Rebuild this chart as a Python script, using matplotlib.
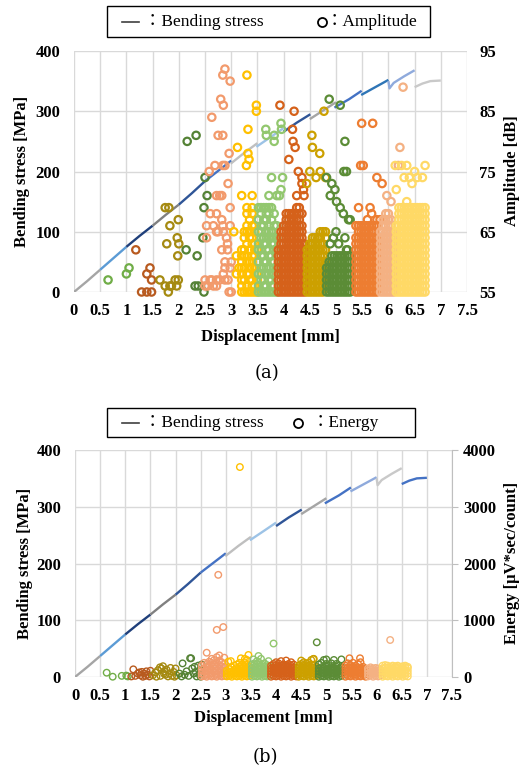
import numpy as np
import matplotlib
matplotlib.use("Agg")
import matplotlib.pyplot as plt
from matplotlib.patches import Rectangle
from matplotlib.lines import Line2D

plt.rcParams['font.family'] = ['Liberation Serif', 'Noto Sans CJK JP', 'DejaVu Sans']

# ---------------- bending stress curve (one piece per 0.5 mm) ----------------
seg_x = [[0, 0.25, 0.5], [0.5, 0.75, 1.0], [1.0, 1.25, 1.5], [1.5, 1.75, 2.0],
         [2.0, 2.25, 2.5], [2.5, 2.75, 3.0], [2.99, 3.25, 3.5], [3.48, 3.75, 4.0],
         [4.0, 4.25, 4.51], [4.5, 4.75, 5.0], [4.97, 5.25, 5.49], [5.48, 5.75, 6.0],
         [6.0, 6.02, 6.1, 6.3, 6.5], [6.5, 6.65, 6.8, 7.0]]
seg_y = [[0, 18, 37], [37, 56, 75], [75, 93, 110], [110, 128, 145],
         [145, 164, 184], [184, 201, 218], [213, 231, 247], [241, 257, 272],
         [266, 281, 295], [287, 301, 315], [306, 320, 334], [327, 340, 352],
         [350, 338, 347, 358, 368], [340, 346, 350, 351]]
seg_col_a = ['#A5A5A5', '#5B9BD5', '#1F3F7A', '#808080', '#2F5597', '#4472C4', '#BFBFBF',
             '#9DC3E6', '#2F5597', '#A5A5A5', '#4472C4', '#2E75B6', '#8FAADC', '#C9C9C9']
seg_col_b = ['#A5A5A5', '#5B9BD5', '#1F3F7A', '#808080', '#2F5597', '#4472C4', '#BFBFBF',
             '#9DC3E6', '#2F5597', '#A5A5A5', '#4472C4', '#8FAADC', '#C9C9C9', '#4472C4']

# colours of the AE hit groups
grp_col = ['#70AD47', '#B85A1F', '#A58A11', '#548235', '#F29A6C', '#FFC000', '#92C76E',
           '#D5611A', '#CCA000', '#5B8C36', '#ED7D31', '#F4B183', '#FFD966']

# ---------------- amplitude [dB], (displacement, [dB values]) ----------------
amp_g1 = [(0.65, [57]), (1.0, [58]), (1.05, [59])]
amp_g2 = [(1.18, [62]), (1.29, [55]), (1.39, [55, 58]), (1.45, [59]), (1.48, [55, 57])]
amp_g3 = [(1.64, [57]), (1.74, [56, 69]), (1.77, [63]), (1.8, [55]), (1.81, [69]),
          (1.83, [56, 66]), (1.86, [56]), (1.93, [57]), (1.96, [56]), (1.97, [64]),
          (1.98, [61]), (1.99, [57, 67]), (2.0, [63])]
amp_g4 = [(2.14, [62]), (2.16, [80]), (2.31, [56]), (2.33, [81]), (2.35, [61]), (2.37, [56]),
          (2.46, [64]), (2.48, [55, 69]), (2.5, [74]), (2.54, [71])]
amp_g5 = [(2.5, [56, 57]), (2.53, [64, 66]), (2.55, [56]), (2.58, [75]), (2.6, [57, 68]),
          (2.63, [57, 84]), (2.66, [56, 66]), (2.69, [76]), (2.72, [56, 57, 65, 68, 71]),
          (2.75, [65, 81]), (2.78, [57, 71]), (2.8, [87]), (2.82, [62, 67, 71]),
          (2.84, [66, 76, 81, 91]), (2.85, [58, 65, 86]), (2.88, [57, 59, 60, 76, 92]),
          (2.91, [64]), (2.93, [62, 63]), (2.94, [57, 73]), (2.96, [55, 78]),
          (2.98, [59, 66, 69, 90]), (3.0, [55, 60])]
amp_g6 = [(3.05, [65]), (3.1, [58, 61]), (3.12, [79]), (3.15, [59]),
          (3.2, [55, 56, 57, 58, 59, 60, 61, 62, 71]), (3.25, [55, 57, 59, 61, 62, 64, 65]),
          (3.29, [76]), (3.3, [55, 56, 58, 60, 61, 63, 65, 66, 68, 69, 91]), (3.32, [78, 82]),
          (3.34, [77]), (3.35, [55, 57, 58, 59, 60, 62, 64, 65, 67]),
          (3.4, [55, 56, 57, 59, 60, 61, 63, 64, 66, 68, 69, 71]),
          (3.45, [55, 56, 58, 59, 61, 62, 63, 65, 66]), (3.48, [85, 86]),
          (3.5, [55, 57, 58, 60, 62])]
amp_g7 = [(3.52, [55, 56, 58, 60, 62, 63, 65, 67, 69]),
          (3.57, [55, 57, 58, 59, 61, 62, 64, 65, 66, 68, 69]),
          (3.62, [55, 56, 57, 59, 60, 61, 63, 64, 66, 67, 69]), (3.66, [82]),
          (3.67, [55, 56, 58, 59, 60, 62, 63, 64, 65, 67, 68, 69, 81]),
          (3.72, [55, 57, 58, 59, 61, 62, 64, 65, 66, 68, 69, 71]),
          (3.77, [55, 56, 57, 58, 60, 61, 63, 64, 65, 67, 69, 74]),
          (3.82, [55, 56, 58, 59, 60, 62, 63, 64, 66, 68, 80, 81]),
          (3.87, [55, 57, 59, 61, 62, 64, 66, 71]), (3.92, [71]), (3.95, [72, 83]),
          (3.96, [82]), (3.98, [74])]
amp_g8 = [(3.9, [55, 56, 57, 58, 59, 60, 61, 62]), (3.93, [86]),
          (3.95, [55, 56, 57, 58, 59, 60, 61, 62, 63, 64, 65]),
          (4.0, [55, 56, 57, 58, 59, 60, 61, 62, 63, 64, 65, 66]),
          (4.05, [55, 56, 57, 58, 59, 60, 61, 62, 63, 64, 65, 66, 67, 68]),
          (4.1, [55, 56, 57, 58, 59, 60, 61, 62, 63, 64, 65, 66, 67, 68, 77]),
          (4.15, [55, 56, 57, 58, 59, 60, 61, 62, 63, 64, 65, 66, 67, 68]),
          (4.17, [82]), (4.18, [80]),
          (4.2, [55, 56, 57, 58, 59, 60, 61, 62, 63, 64, 65, 66, 67, 68, 85]), (4.22, [79]),
          (4.25, [55, 56, 57, 58, 59, 60, 61, 62, 63, 64, 65, 66, 67, 68, 69, 71]),
          (4.28, [75]),
          (4.3, [55, 56, 57, 58, 59, 60, 61, 62, 63, 64, 65, 66, 67, 68, 69]),
          (4.35, [55, 56, 57, 58, 59, 60, 61, 62, 63, 64, 65, 66, 68, 73, 74]),
          (4.38, [72]), (4.39, [71]), (4.4, [55, 56, 57, 58, 59, 60, 61, 62, 63])]
amp_g9 = [(4.44, [73]), (4.45, [55, 56, 57, 58, 59, 60, 61, 62]),
          (4.5, [55, 56, 57, 58, 59, 60, 61, 62, 63, 75]), (4.54, [81]),
          (4.55, [55, 56, 57, 58, 59, 60, 61, 62, 63, 64, 79]),
          (4.6, [55, 56, 57, 58, 59, 60, 61, 62, 63, 64]), (4.62, [74]),
          (4.65, [55, 56, 57, 58, 59, 60, 61, 62, 63, 64]), (4.69, [78]),
          (4.7, [55, 56, 57, 58, 59, 60, 61, 62, 63, 64, 65, 75]),
          (4.75, [55, 56, 57, 58, 59, 60, 61, 62, 63, 65]), (4.77, [85]),
          (4.8, [57, 58, 60, 62, 64, 65, 74])]
amp_g10 = [(4.82, [55, 56, 57, 58, 59, 74]), (4.87, [55, 56, 57, 58, 59, 60, 87]),
           (4.89, [63, 71]), (4.92, [55, 56, 57, 58, 59, 60, 61, 73]), (4.95, [64]),
           (4.97, [55, 56, 57, 58, 59, 60, 61]), (4.98, [72]), (5.0, [65]), (5.01, [70]),
           (5.02, [55, 56, 57, 58, 59, 60, 61]), (5.05, [63]),
           (5.07, [55, 56, 57, 58, 59, 60, 61]), (5.08, [69, 86]),
           (5.12, [55, 56, 57, 58, 59, 60, 61]), (5.14, [68]), (5.15, [75]),
           (5.17, [55, 56, 57, 58, 59, 60, 61, 64, 80]), (5.2, [62, 75]),
           (5.22, [55, 56, 57, 58, 59, 60, 61, 62]), (5.24, [67]),
           (5.27, [55, 56, 57, 58, 59, 60, 61, 67])]
amp_g11 = [(5.38, [55, 56, 57, 58, 59, 60, 61, 62, 63, 64, 66]),
           (5.43, [55, 56, 57, 58, 59, 60, 61, 62, 63, 64, 65, 66, 69]), (5.47, [76]),
           (5.48, [55, 56, 57, 58, 59, 60, 61, 62, 63, 64, 65, 66]), (5.49, [83]),
           (5.52, [76]), (5.53, [55, 56, 57, 58, 59, 60, 61, 62, 63, 64, 65, 66]),
           (5.58, [55, 56, 57, 58, 59, 60, 61, 62, 63, 64, 65, 66]), (5.6, [67]),
           (5.63, [55, 56, 57, 58, 59, 60, 61, 62, 63, 64, 65, 66]), (5.65, [69]),
           (5.68, [55, 56, 57, 58, 59, 60, 61, 62, 63, 64, 65, 66, 68]), (5.7, [83]),
           (5.73, [55, 56, 57, 58, 59, 60, 61, 62, 63, 64, 65, 66]),
           (5.78, [55, 56, 57, 58, 59, 60, 61, 62, 63, 64, 66, 67, 74]), (5.84, [67]),
           (5.88, [73])]
amp_g12 = [(5.85, [55, 56, 57, 58, 59, 60, 61, 62, 63, 64, 65]),
           (5.9, [55, 56, 57, 58, 59, 60, 61, 62, 63, 64, 65, 66, 67]),
           (5.95, [55, 56, 57, 58, 59, 60, 61, 62, 63, 64, 65, 66, 67, 68]), (5.97, [71]),
           (6.0, [55, 56, 57, 58, 59, 60, 61, 62, 63, 64, 65, 66, 67, 68]),
           (6.05, [55, 56, 57, 58, 59, 60, 61, 62, 63, 64, 65, 66, 67, 70]),
           (6.1, [55, 56, 57, 58, 59, 60, 61, 62, 63, 64, 65]),
           (6.19, [76]), (6.22, [79]), (6.28, [89])]
amp_g13 = [(6.13, [76]), (6.15, [55, 56, 57, 58, 59, 60, 61, 62, 63, 64, 65, 66, 72]),
           (6.2, [55, 56, 57, 58, 59, 60, 61, 62, 63, 64, 65, 66, 67, 68, 69]),
           (6.25, [55, 56, 57, 58, 59, 60, 61, 62, 63, 64, 65, 66, 67, 68, 69, 76]),
           (6.3, [55, 56, 57, 58, 59, 60, 61, 62, 63, 64, 65, 66, 67, 68, 69, 74]),
           (6.35, [55, 56, 57, 58, 59, 60, 61, 62, 63, 64, 65, 66, 67, 68, 69, 70, 76]),
           (6.4, [55, 56, 57, 58, 59, 60, 61, 62, 63, 64, 65, 66, 67, 68, 69, 74]),
           (6.45, [55, 56, 57, 58, 59, 60, 61, 62, 63, 64, 65, 66, 67, 68, 69, 73]),
           (6.5, [55, 56, 57, 58, 59, 60, 61, 62, 63, 64, 65, 66, 67, 68, 69, 75]),
           (6.55, [55, 56, 57, 58, 59, 60, 61, 62, 63, 64, 65, 66, 67, 68, 69, 74]),
           (6.6, [55, 56, 57, 58, 59, 60, 61, 62, 63, 64, 65, 66, 67, 68, 69]),
           (6.65, [55, 56, 57, 58, 59, 60, 61, 62, 63, 64, 65, 66, 67, 68, 69, 74]),
           (6.7, [55, 56, 57, 58, 59, 60, 61, 62, 63, 64, 65, 66, 67, 68, 69, 76])]
amp_groups = [amp_g1, amp_g2, amp_g3, amp_g4, amp_g5, amp_g6, amp_g7,
              amp_g8, amp_g9, amp_g10, amp_g11, amp_g12, amp_g13]

# ---------------- energy [uV*sec/count], (displacement, [energy values]) ----------------
en_g1 = [(0.63, [76]), (0.75, [5]), (0.93, [20]), (1.02, [25]), (1.05, [10])]
en_g2 = [(1.12, [10]), (1.16, [135]), (1.2, [20]), (1.25, [60]), (1.28, [80]), (1.3, [30]),
         (1.33, [90]), (1.35, [5]), (1.38, [60]), (1.4, [20]), (1.42, [100]), (1.45, [40]),
         (1.48, [10]), (1.5, [110])]
en_g3 = [(1.55, [30]), (1.6, [80]), (1.62, [5]), (1.65, [120]), (1.69, [170]), (1.7, [20]),
         (1.72, [150]), (1.75, [190]), (1.77, [60]), (1.78, [100]), (1.8, [40]), (1.82, [130]),
         (1.85, [10]), (1.88, [60]), (1.9, [160]), (1.93, [20]), (1.96, [90]), (1.98, [5]),
         (2.0, [150]), (2.02, [30])]
en_g4 = [(2.08, [60]), (2.12, [10]), (2.14, [240]), (2.18, [40]), (2.22, [100]), (2.26, [20]),
         (2.29, [330]), (2.31, [330]), (2.33, [150]), (2.36, [60]), (2.38, [180]), (2.4, [90]),
         (2.42, [10]), (2.45, [200]), (2.48, [40]), (2.5, [5, 120]), (2.52, [220])]
en_g5 = [(2.52, [10, 60, 130, 200]), (2.57, [20, 90, 150, 250]),
         (2.62, [5, 50, 110, 170, 230, 428]), (2.67, [30, 80, 140, 200, 270]),
         (2.72, [10, 60, 120, 190, 250, 320]), (2.77, [20, 90, 150, 220, 300]),
         (2.82, [5, 50, 110, 180, 260, 350, 830]), (2.85, [1800]),
         (2.87, [30, 80, 140, 210, 290, 380]), (2.92, [10, 60, 120, 190, 260]),
         (2.95, [880]), (2.97, [20, 90, 160, 230, 340])]
en_g6 = [(3.02, [10, 60, 110]), (3.05, [270]), (3.07, [20, 80, 140]), (3.1, [280]),
         (3.12, [5, 50, 100, 170]), (3.17, [30, 80, 130, 200]), (3.22, [10, 60, 110, 160, 220]),
         (3.27, [20, 70, 120, 180, 250]), (3.28, [3700]), (3.3, [330]),
         (3.32, [5, 50, 100, 150, 210]), (3.37, [30, 80, 130, 190, 260]), (3.38, [320]),
         (3.42, [10, 60, 110, 170, 230, 300]), (3.45, [388]), (3.47, [20, 70, 120, 180])]
en_g7 = [(3.52, [5, 50, 100, 160, 220]), (3.55, [310]), (3.57, [20, 70, 120, 180, 240]),
         (3.62, [10, 60, 110, 170, 230, 280]), (3.65, [370]), (3.67, [30, 80, 130, 190, 250]),
         (3.7, [320]), (3.72, [5, 50, 100, 160, 220]), (3.77, [20, 70, 120, 180, 240]),
         (3.82, [10, 60, 110, 170, 210]), (3.85, [280]), (3.87, [30, 80, 130, 190]),
         (3.95, [590])]
en_g8 = [(3.9, [5, 50, 100, 150, 200]), (3.95, [20, 70, 120, 170, 230]),
         (4.0, [10, 60, 110, 160, 210, 260]), (4.05, [30, 80, 130, 180, 240]),
         (4.1, [5, 50, 100, 150, 200, 280]), (4.15, [20, 70, 120, 170, 220]),
         (4.2, [10, 60, 110, 160, 210, 290]), (4.25, [30, 80, 130, 180, 230]),
         (4.3, [5, 50, 100, 150, 200, 260]), (4.35, [20, 70, 120, 170, 220]),
         (4.4, [10, 60, 110, 160])]
en_g9 = [(4.45, [5, 50, 100, 150, 200]), (4.5, [20, 70, 120, 170, 230, 290]),
         (4.55, [10, 60, 110, 160, 210, 260]), (4.6, [30, 80, 130, 180, 240]),
         (4.65, [5, 50, 100, 150, 200, 250]), (4.7, [20, 70, 120, 170, 220, 300]),
         (4.74, [317]), (4.75, [10, 60, 110, 160, 210, 320]), (4.8, [30, 80, 130, 180])]
en_g10 = [(4.81, [611]), (4.85, [5, 50, 100, 150, 220]), (4.9, [20, 70, 120, 170, 250]),
          (4.95, [10, 60, 110, 160, 300]), (5.0, [30, 80, 130, 180, 230, 310]),
          (5.05, [5, 50, 100, 150, 200]), (5.1, [20, 70, 120, 170, 240]),
          (5.15, [10, 60, 110, 160, 300]), (5.2, [30, 80, 130, 180, 230]),
          (5.25, [5, 50, 100, 150, 200]), (5.3, [20, 70, 120, 170, 310])]
en_g11 = [(5.38, [5, 50, 100, 150, 200]), (5.43, [20, 70, 120, 170, 240]), (5.46, [330]),
          (5.48, [10, 60, 110, 160, 210]), (5.53, [30, 80, 130, 180, 250]),
          (5.58, [5, 50, 100, 150, 200]), (5.63, [20, 70, 120, 170, 230]), (5.67, [330]),
          (5.68, [10, 60, 110, 160, 260]), (5.73, [30, 80, 130, 180]), (5.78, [5, 50, 100, 150])]
en_g12 = [(5.83, [10, 60, 110, 150]), (5.88, [30, 80, 130, 170]), (5.93, [5, 50, 100, 150]),
          (5.98, [20, 70, 120, 160]), (6.03, [10, 60, 110, 150]), (6.08, [30, 80, 130]),
          (6.27, [652])]
en_g13 = [(6.12, [5, 50, 100, 150, 200]), (6.17, [20, 70, 120, 170, 210]),
          (6.22, [10, 60, 110, 160, 200]), (6.27, [30, 80, 130, 180]),
          (6.32, [5, 50, 100, 150, 200]), (6.37, [20, 70, 120, 170, 190]),
          (6.42, [10, 60, 110, 160, 200]), (6.47, [30, 80, 130, 180]),
          (6.52, [5, 50, 100, 150, 190]), (6.57, [20, 70, 120, 170, 200]),
          (6.62, [10, 60, 110, 160, 180])]
en_groups = [en_g1, en_g2, en_g3, en_g4, en_g5, en_g6, en_g7,
             en_g8, en_g9, en_g10, en_g11, en_g12, en_g13]

x_ticks = [0, 0.5, 1, 1.5, 2, 2.5, 3, 3.5, 4, 4.5, 5, 5.5, 6, 6.5, 7, 7.5]
x_labels = ['0', '0.5', '1', '1.5', '2', '2.5', '3', '3.5', '4', '4.5', '5', '5.5', '6', '6.5', '7', '7.5']
stress_ticks = [0, 100, 200, 300, 400]
amp_ticks = [55, 65, 75, 85, 95]
en_ticks = [0, 1000, 2000, 3000, 4000]

W, H = 527, 771
GRID = '#D9D9D9'


def flat(cols):
    """columns (x, [values]) -> two flat lists"""
    xs, ys = [], []
    for x, vals in cols:
        for v in vals:
            xs.append(x)
            ys.append(v)
    return xs, ys


def box(l, t, r, b):
    """pixel box (left, top, right, bottom) -> figure rect"""
    return [l / W, 1 - b / H, (r - l) / W, (b - t) / H]


def fx(px):
    return px / W


def fy(py):
    return 1 - py / H


def base_axes(ax, cols):
    ax.set_xlim(0, 7.5)
    ax.set_ylim(0, 400)
    ax.set_xticks(x_ticks)
    ax.set_xticklabels(x_labels)
    ax.set_yticks(stress_ticks)
    ax.grid(True, color=GRID, lw=1.0)
    ax.set_axisbelow(True)
    for s in ax.spines.values():
        s.set_visible(False)
    ax.tick_params(axis='both', length=0, labelsize=12)
    ax.tick_params(axis='y', pad=10)
    ax.tick_params(axis='x', pad=8)
    for lab in ax.get_xticklabels() + ax.get_yticklabels():
        lab.set_fontweight('bold')
    for i in range(len(seg_x)):
        ax.plot(seg_x[i], seg_y[i], color=cols[i], lw=1.7, solid_capstyle='butt', zorder=2)


def legend_box(t, b, r, circle_x, text2, text2_x):
    fig.add_artist(Rectangle((fx(107), fy(b)), fx(r) - fx(107), fy(t) - fy(b),
                             transform=fig.transFigure, fill=False, ec='black', lw=1.0))
    ym = (t + b) / 2
    fig.add_artist(Line2D([fx(122), fx(139)], [fy(ym), fy(ym)], transform=fig.transFigure,
                          color='#404040', lw=1.2))
    fig.text(fx(144), fy(ym), '：Bending stress', fontsize=12.5, va='center', ha='left')
    fig.add_artist(Line2D([fx(circle_x)], [fy(ym)], transform=fig.transFigure, marker='o',
                          ms=6.5, mfc='none', mec='black', mew=1.3, ls='none'))
    fig.text(fx(text2_x), fy(ym), text2, fontsize=12.5, va='center', ha='left')


fig = plt.figure(figsize=(W / 100, H / 100), dpi=100)

# ================= (a) bending stress + amplitude =================
ax_a = fig.add_axes(box(74, 51, 467, 292))
base_axes(ax_a, seg_col_a)
ax_a2 = ax_a.twinx()
ax_a2.set_ylim(55, 95)
ax_a2.set_yticks(amp_ticks)
for s in ax_a2.spines.values():
    s.set_visible(False)
ax_a2.tick_params(axis='y', length=0, labelsize=12, pad=9)
for lab in ax_a2.get_yticklabels():
    lab.set_fontweight('bold')
for i, g in enumerate(amp_groups):
    xs, ys = flat(g)
    ax_a2.scatter(xs, ys, s=28, facecolors='none', edgecolors=grp_col[i], linewidths=1.6,
                  zorder=3, clip_on=False)

fig.text(fx(22), fy(171), 'Bending stress [MPa]', rotation=90, fontsize=12,
         fontweight='bold', ha='center', va='center')
fig.text(fx(512), fy(171), 'Amplitude [dB]', rotation=90, fontsize=12,
         fontweight='bold', ha='center', va='center')
fig.text(fx(270), fy(337), 'Displacement [mm]', fontsize=12, fontweight='bold',
         ha='center', va='center')
legend_box(6, 37, 430, 322, '：Amplitude', 326)
fig.text(fx(267), fy(373), '(a)', fontsize=13, family='DejaVu Serif', ha='center', va='center')

# ================= (b) bending stress + energy =================
ax_b = fig.add_axes(box(75, 450, 452, 677))
base_axes(ax_b, seg_col_b)
ax_b2 = ax_b.twinx()
ax_b2.set_ylim(0, 4000)
ax_b2.set_yticks(en_ticks)
for k, s in ax_b2.spines.items():
    s.set_visible(k == 'right')
ax_b2.spines['right'].set_color('#BFBFBF')
ax_b2.tick_params(axis='y', length=4, color='#BFBFBF', labelsize=12, pad=4)
for lab in ax_b2.get_yticklabels():
    lab.set_fontweight('bold')
for i, g in enumerate(en_groups):
    xs, ys = flat(g)
    ax_b2.scatter(xs, ys, s=22, facecolors='none', edgecolors=grp_col[i], linewidths=1.0,
                  zorder=3, clip_on=False)

fig.text(fx(25), fy(563), 'Bending stress [MPa]', rotation=90, fontsize=12,
         fontweight='bold', ha='center', va='center')
fig.text(fx(512), fy(563), 'Energy [µV*sec/count]', rotation=90, fontsize=12,
         fontweight='bold', ha='center', va='center')
fig.text(fx(263), fy(718), 'Displacement [mm]', fontsize=12, fontweight='bold',
         ha='center', va='center')
legend_box(408, 437, 415, 298, '：Energy', 312)
fig.text(fx(265), fy(757), '(b)', fontsize=13, family='DejaVu Serif', ha='center', va='center')

fig.savefig('out.png', dpi=100)
